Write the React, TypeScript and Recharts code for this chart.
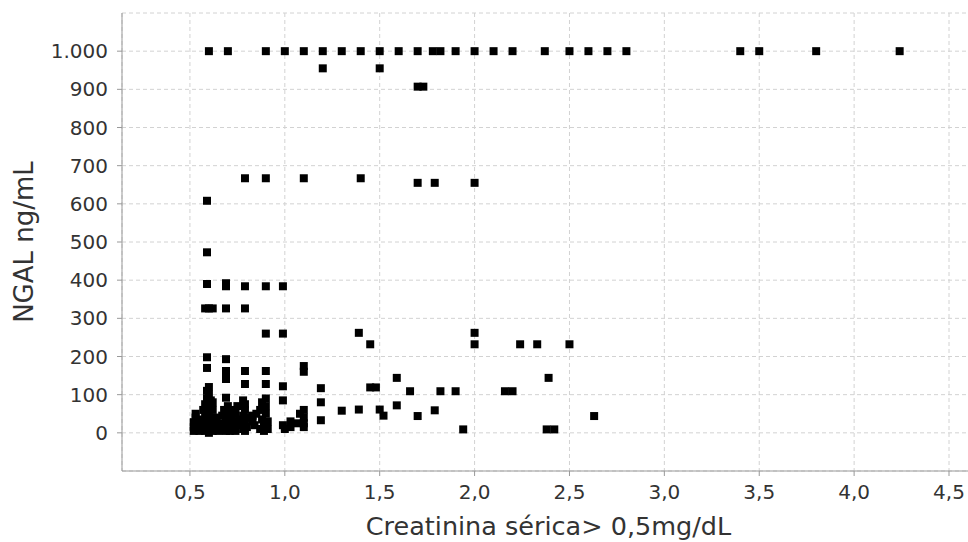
import React from 'react';
import { ScatterChart, Scatter, XAxis, YAxis, ZAxis, CartesianGrid } from 'recharts';

const xTicks = [0.5, 1.0, 1.5, 2.0, 2.5, 3.0, 3.5, 4.0, 4.5];
const yTicks = [0, 100, 200, 300, 400, 500, 600, 700, 800, 900, 1000];

// [creatinina mg/dL, NGAL ng/mL]
const saturatedRow: [number, number][] = [
  [0.6, 1000], [0.7, 1000], [0.9, 1000], [1.0, 1000], [1.1, 1000], [1.2, 1000],
  [1.3, 1000], [1.4, 1000], [1.5, 1000], [1.6, 1000], [1.7, 1000], [1.78, 1000],
  [1.82, 1000], [1.9, 1000], [2.0, 1000], [2.1, 1000], [2.2, 1000], [2.37, 1000],
  [2.5, 1000], [2.6, 1000], [2.7, 1000], [2.8, 1000], [3.4, 1000], [3.5, 1000],
  [3.8, 1000], [4.24, 1000],
];

const highBand: [number, number][] = [
  [1.2, 955], [1.5, 955], [1.7, 907], [1.73, 907],
  [0.79, 667], [0.9, 667], [1.1, 667], [1.4, 667],
  [1.7, 655], [1.79, 655], [2.0, 655], [0.59, 608],
];

const midBand: [number, number][] = [
  [0.59, 473], [0.59, 390], [0.69, 384], [0.69, 392], [0.79, 384], [0.9, 384], [0.99, 384],
  [0.58, 326], [0.6, 326], [0.62, 326], [0.69, 326], [0.79, 326],
  [0.9, 260], [0.99, 260], [1.39, 262], [2.0, 262],
  [1.45, 232], [2.0, 232], [2.24, 232], [2.33, 232], [2.5, 232],
  [0.59, 198], [0.59, 170], [0.69, 193], [0.69, 162], [0.69, 141],
  [0.79, 162], [0.79, 128], [0.9, 162], [0.9, 128], [0.99, 122],
  [1.1, 175], [1.1, 160], [1.19, 117],
];

const lowBand: [number, number][] = [
  [1.19, 80], [1.19, 33], [1.59, 144], [2.39, 144], [1.45, 119], [1.48, 119],
  [1.66, 109], [1.82, 109], [1.9, 109], [2.16, 109], [2.2, 109],
  [1.59, 72], [1.39, 61], [1.5, 61], [1.3, 58], [1.52, 45], [1.7, 44], [2.63, 44],
  [1.79, 59], [1.94, 9], [2.38, 9], [2.42, 9],
  [0.99, 85], [0.99, 20], [1.0, 10], [1.03, 30], [1.03, 15], [1.06, 25], [1.08, 50],
  [1.1, 60], [1.1, 40], [1.1, 25], [1.1, 15],
];

const cluster: [number, number][] = [
  [0.52, 5], [0.52, 15], [0.52, 28], [0.53, 40], [0.53, 50],
  [0.55, 5], [0.55, 20], [0.55, 35], [0.57, 10], [0.57, 25], [0.57, 60],
  [0.58, 45], [0.58, 5], [0.58, 75], [0.59, 90], [0.59, 110], [0.59, 30], [0.59, 15],
  [0.6, 0], [0.6, 50], [0.6, 65], [0.6, 100], [0.6, 120],
  [0.61, 20], [0.61, 40], [0.61, 85], [0.62, 5], [0.62, 60], [0.62, 80],
  [0.63, 10], [0.63, 30], [0.64, 40], [0.64, 20], [0.65, 5], [0.65, 15],
  [0.66, 25], [0.67, 8], [0.67, 45], [0.68, 20], [0.68, 60],
  [0.69, 92], [0.69, 5], [0.69, 35], [0.7, 15], [0.7, 70], [0.7, 50],
  [0.71, 25], [0.71, 5], [0.72, 40], [0.72, 60], [0.73, 10], [0.73, 30],
  [0.74, 50], [0.74, 5], [0.75, 20], [0.75, 70], [0.76, 35],
  [0.78, 10], [0.78, 45], [0.78, 85], [0.79, 25], [0.79, 60], [0.79, 75], [0.79, 5],
  [0.8, 40], [0.8, 15], [0.83, 30], [0.83, 45], [0.84, 20], [0.85, 50],
  [0.87, 10], [0.87, 60], [0.88, 80], [0.88, 35], [0.89, 5], [0.89, 20],
  [0.9, 50], [0.9, 70], [0.9, 90], [0.91, 30], [0.91, 10],
];

const data = [...saturatedRow, ...highBand, ...midBand, ...lowBand, ...cluster].map(([x, y]) => ({ x, y }));

const FONT = '"DejaVu Sans", "Liberation Sans", sans-serif';
const fmtX = (v: number) => v.toFixed(1).replace('.', ',');
const fmtY = (v: number) => String(v).replace(/\B(?=(\d{3})+(?!\d))/g, '.');

const YTitle = (props: any) => {
  const vb = props.viewBox || { x: 0, y: 13, width: 122, height: 458 };
  const cx = vb.x + 33;
  const cy = vb.y + vb.height / 2;
  return (
    <text x={cx} y={cy} transform={`rotate(-90 ${cx} ${cy})`} textAnchor="middle"
      fontFamily={FONT} fontSize={26} fill="#333">NGAL ng/mL</text>
  );
};

const XTitle = (props: any) => {
  const vb = props.viewBox || { x: 122, y: 471, width: 853, height: 71 };
  return (
    <text x={vb.x + vb.width / 2} y={vb.y + 64} textAnchor="middle"
      fontFamily={FONT} fontSize={25.5} fill="#333">Creatinina sérica&gt; 0,5mg/dL</text>
  );
};

export default function App() {
  return (
    <div style={{ position: 'absolute', left: 0, top: 0, width: 968, height: 542, overflow: 'hidden', background: '#fff' }}>
      <ScatterChart width={975} height={542} margin={{ top: 13, right: 0, bottom: 0, left: 0 }}>
        <CartesianGrid stroke="#d2d2d2" strokeDasharray="4 3" />
        <XAxis
          type="number" dataKey="x" domain={[0.142, 4.637]} ticks={xTicks}
          tickFormatter={fmtX} allowDataOverflow height={71}
          stroke="#999" tickSize={5} tickMargin={9}
          tick={{ fontSize: 20, fill: '#333', fontFamily: FONT }}
          label={<XTitle />}
        />
        <XAxis xAxisId="top" orientation="top" type="number" domain={[0.142, 4.637]}
          height={0} tick={false} tickLine={false} stroke="#aaa" />
        <YAxis
          type="number" dataKey="y" domain={[-100, 1100]} ticks={yTicks}
          tickFormatter={fmtY} allowDataOverflow width={122}
          stroke="#999" tickSize={5} tickMargin={9}
          tick={{ fontSize: 20, fill: '#333', fontFamily: FONT }}
          label={<YTitle />}
        />
        <ZAxis range={[64, 64]} />
        <Scatter data={data} fill="#000" shape="square" isAnimationActive={false} />
      </ScatterChart>
    </div>
  );
}
